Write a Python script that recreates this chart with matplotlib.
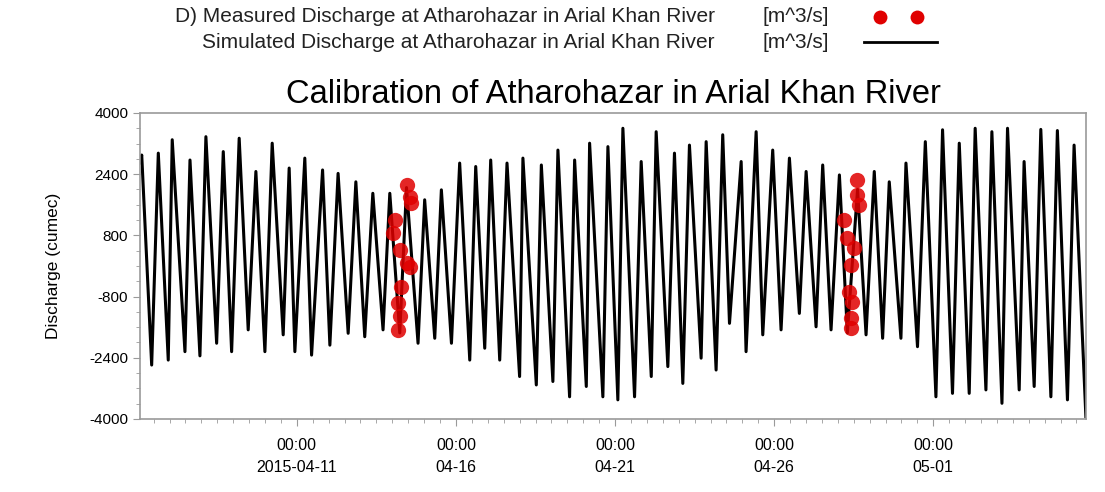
import numpy as np
import matplotlib
matplotlib.use('Agg')
import matplotlib.pyplot as plt
import matplotlib.dates as mdates
from matplotlib.lines import Line2D
from matplotlib.ticker import MultipleLocator, FixedLocator, FuncFormatter
import datetime as dt

plt.rcParams['font.family'] = ['Liberation Sans', 'DejaVu Sans']

# hours after 2015-04-06 00:00
base = dt.datetime(2015, 4, 6)

peak_hours = [3.0, 15.5, 26.0, 39.4, 51.4, 64.5, 76.5, 89.1, 101.4, 114.2,
              126.0, 139.4, 151.1, 164.5, 177.3, 190.1, 202.7, 216.4, 229.0, 242.8,
              254.9, 266.2, 278.5, 290.5, 304.4, 316.9, 329.5, 340.8, 354.6, 365.9,
              379.7, 391.0, 404.8, 416.1, 428.7, 441.2, 455.1, 466.4, 478.9, 491.5,
              504.1, 516.6, 529.2, 542.9, 555.5, 566.8, 579.4, 594.0, 607.0, 619.6,
              631.6, 644.2, 656.0, 668.5, 681.1, 693.6, 706.2]
peak_vals = [2900, 2950, 3300, 2770, 3380, 2990, 3340, 2470, 3210, 2560,
             2820, 2510, 2420, 2200, 1900, 1900, 2050, 1730, 1990, 2690,
             2600, 2770, 2690, 2820, 2640, 3030, 2770, 3210, 3120, 3600,
             2730, 3510, 2950, 3160, 3250, 3430, 2730, 3510, 3030, 2820,
             2470, 2640, 2380, 2000, 2470, 2200, 2690, 3250, 3560, 3210,
             3600, 3510, 3600, 2730, 3570, 3540, 3160]

trough_hours = [10.5, 23.0, 35.6, 46.9, 59.5, 70.8, 83.3, 95.9, 109.7, 118.5,
                131.1, 144.9, 158.7, 171.2, 185.0, 197.6, 211.4, 224.0, 236.6, 250.4,
                261.7, 273.0, 288.0, 300.6, 313.1, 325.7, 338.3, 350.8, 362.1, 374.7,
                387.3, 399.8, 411.1, 424.9, 436.2, 446.3, 458.8, 471.4, 485.2, 499.0,
                511.6, 522.9, 535.2, 549.3, 561.8, 575.6, 588.1, 602.0, 614.5, 627.1,
                639.7, 651.8, 664.8, 676.1, 688.7, 701.2, 715.1]
trough_vals = [-2590, -2460, -2240, -2350, -2020, -2240, -1670, -2240, -1800, -2240,
               -2330, -2070, -1760, -1850, -1670, -1750, -2020, -1890, -2020, -2460,
               -2150, -2460, -2890, -3110, -3020, -3420, -3150, -3420, -3500, -3420,
               -2890, -2630, -3070, -2410, -2720, -1500, -2240, -1800, -1670, -1240,
               -1590, -1670, -1750, -1800, -1890, -1890, -2110, -3420, -3330, -3330,
               -3240, -3590, -3240, -3150, -3420, -3500, -3940]

meas_hours = [202.7, 206.4, 205.1, 193.8, 192.6, 197.6, 202.7, 205.1, 198.9, 196.3, 197.6, 196.3,
              542.7, 542.7, 544.0, 532.6, 535.1, 540.2, 537.7, 536.4, 538.7, 537.7, 537.7]
meas_vals = [2120, 1640, 1800, 1200, 860, 420, 70, -20, -540, -980, -1320, -1670,
             2250, 1860, 1600, 1200, 730, 460, 30, -670, -930, -1370, -1630]

y_ticks = [-4000, -2400, -800, 800, 2400, 4000]

start_hour, start_val = 1.7, 2700

hours = np.concatenate([[start_hour], peak_hours, trough_hours])
vals = np.concatenate([[start_val], peak_vals, trough_vals])
order = np.argsort(hours)
sim_t = [base + dt.timedelta(hours=float(h)) for h in hours[order]]
sim_v = vals[order]
meas_t = [base + dt.timedelta(hours=float(h)) for h in meas_hours]

fig = plt.figure(figsize=(11.05, 4.92), dpi=100)
ax = fig.add_axes([0.1267, 0.1484, 0.856, 0.622])

ax.plot(sim_t, sim_v, color='black', lw=2.2, zorder=2)
ax.plot(meas_t, meas_vals, 'o', color='#e00000', ms=11, alpha=0.85, mec='none', zorder=3)

ax.set_xlim(base + dt.timedelta(hours=1.7), base + dt.timedelta(hours=715.1))
ax.set_ylim(-4000, 4000)
ax.yaxis.set_major_locator(FixedLocator(y_ticks))
ax.yaxis.set_minor_locator(MultipleLocator(400))
ax.yaxis.set_major_formatter(FuncFormatter(lambda v, p: '%d' % v))

ax.xaxis.set_major_locator(mdates.DayLocator(bymonthday=[1, 11, 16, 21, 26]))
ax.xaxis.set_minor_locator(mdates.HourLocator(byhour=[0, 12]))
first = mdates.date2num(dt.datetime(2015, 4, 11))


def fmt(x, pos):
    d = mdates.num2date(x)
    if abs(x - first) < 0.01:
        return d.strftime('%H:%M\n%Y-%m-%d')
    return d.strftime('%H:%M\n%m-%d')


ax.xaxis.set_major_formatter(FuncFormatter(fmt))

for s in ax.spines.values():
    s.set_color('#9a9a9a')
    s.set_linewidth(1.2)
ax.tick_params(which='both', direction='out', color='#9a9a9a', labelsize=11.5)
ax.tick_params(axis='y', labelsize=11)
ax.tick_params(which='major', length=5)
ax.tick_params(which='minor', length=3)
ax.tick_params(axis='x', pad=9)
for lab in ax.get_xticklabels():
    lab.set_linespacing(1.55)
ax.set_ylabel('Discharge (cumec)', fontsize=12.5, labelpad=20)
ax.set_title('Calibration of Atharohazar in Arial Khan River', fontsize=23.5, pad=7)

# legend on top
ty1 = 1 - 17 / 492
ty2 = 1 - 42 / 492
leg_fs = 15
fig.text(715 / 1105, ty1, 'D) Measured Discharge at Atharohazar in Arial Khan River',
         ha='right', va='center', fontsize=leg_fs, color='#222222')
fig.text(715 / 1105, ty2, 'Simulated Discharge at Atharohazar in Arial Khan River',
         ha='right', va='center', fontsize=leg_fs, color='#222222')
fig.text(762 / 1105, ty1, '[m^3/s]', ha='left', va='center', fontsize=leg_fs, color='#222222')
fig.text(762 / 1105, ty2, '[m^3/s]', ha='left', va='center', fontsize=leg_fs, color='#222222')
fig.add_artist(Line2D([880 / 1105, 917 / 1105], [ty1, ty1], ls='none',
                      marker='o', ms=10, color='#e00000', mec='none'))
fig.add_artist(Line2D([864 / 1105, 937 / 1105], [ty2, ty2], color='black', lw=2.0))

fig.savefig('out.png', dpi=100)
